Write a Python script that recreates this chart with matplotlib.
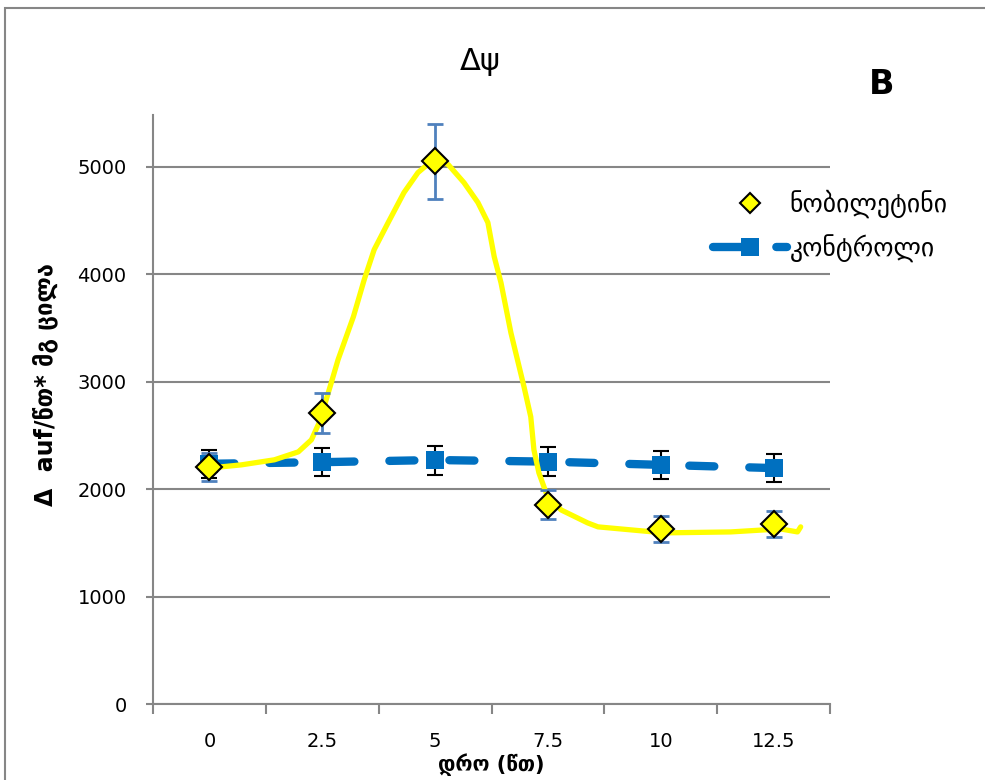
import matplotlib
matplotlib.use("Agg")
import matplotlib.pyplot as plt
from matplotlib.lines import Line2D
from matplotlib.patches import Rectangle

# time points (min)
times = [0, 2.5, 5, 7.5, 10, 12.5]
tick_labels = ["0", "2.5", "5", "7.5", "10", "12.5"]

# nobiletin and control values with their errors
nobiletin = [2205, 2705, 5050, 1855, 1630, 1675]
nobiletin_err = [130, 185, 350, 135, 120, 125]
control = [2235, 2250, 2270, 2255, 2225, 2195]
control_err = [130, 130, 135, 135, 130, 130]

# hand-drawn yellow trend curve
curve_t = [-0.18, 0.04, 0.71, 1.44, 1.97, 2.26, 2.43, 2.54, 2.70, 2.85,
           3.19, 3.43, 3.65, 3.96, 4.31, 4.62, 4.91, 5.07, 5.29, 5.64,
           5.95, 6.17, 6.31, 6.46, 6.68, 6.97, 7.12, 7.19, 7.30, 7.46,
           7.79, 8.38, 8.61, 10.07, 11.55, 12.65, 13.03, 13.10]
curve_v = [2207, 2197, 2225, 2272, 2346, 2458, 2616, 2765, 2989, 3203,
           3603, 3948, 4227, 4479, 4758, 4944, 5047, 5065, 5019, 4851,
           4665, 4479, 4162, 3920, 3454, 2952, 2672, 2365, 2151, 1965,
           1806, 1685, 1648, 1592, 1601, 1629, 1601, 1648]

plt.rcParams["font.family"] = ["DejaVu Sans"]

gray = "#868686"
blue = "#0070C0"
err_blue = "#4F81BD"
yellow = "#FFFF00"

fig = plt.figure(figsize=(9.85, 7.8), dpi=100)
ax = fig.add_axes([153 / 985, 1 - 704 / 780, 677 / 985, 589 / 780])

# control series: thick dashed blue line with squares
ax.errorbar(times, control, yerr=control_err, fmt="none", ecolor="black",
            elinewidth=1.5, capsize=6, capthick=1.5, zorder=3)
ctrl_line, = ax.plot(times, control, color=blue, linewidth=6,
                     dash_capstyle="round", marker="s", markersize=13,
                     markeredgewidth=0, zorder=4)
ctrl_line.set_dashes([3, 4.2])

# yellow curve
ax.plot(curve_t, curve_v, color=yellow, linewidth=3.8,
        solid_joinstyle="round", solid_capstyle="round", zorder=5)

# nobiletin points
ax.errorbar(times, nobiletin, yerr=nobiletin_err, fmt="none", ecolor=err_blue,
            elinewidth=2, capsize=6, capthick=2, zorder=5.5)
ax.plot(times, nobiletin, linestyle="none", marker="D", markersize=13,
        markerfacecolor=yellow, markeredgecolor="black", markeredgewidth=1.5,
        zorder=6)

# axes styling
ax.set_xlim(-1.25, 13.75)
ax.set_ylim(0, 5480)
ax.set_yticks([0, 1000, 2000, 3000, 4000, 5000])
ax.yaxis.grid(True, color=gray, linewidth=1.5)
ax.set_axisbelow(True)
ax.set_xticks([-1.25 + 2.5 * i for i in range(7)])
ax.set_xticklabels([])
ax.set_xticks(times, minor=True)
ax.set_xticklabels(tick_labels, minor=True)
ax.tick_params(axis="x", which="major", length=7, width=1.5, color=gray)
ax.tick_params(axis="x", which="minor", length=0, pad=20, labelsize=14)
ax.tick_params(axis="y", length=5, width=1.5, color=gray, pad=14, labelsize=14)
for side in ["top", "right"]:
    ax.spines[side].set_visible(False)
for side in ["left", "bottom"]:
    ax.spines[side].set_color(gray)
    ax.spines[side].set_linewidth(1.5)

fig.text(491 / 985, 1 - 765 / 780, "დრო (წთ)", fontsize=15,
         fontweight="bold", ha="center", va="center")
fig.text(45 / 985, 1 - 385 / 780, "Δ  auf/წთ* მგ ცილა", rotation=90,
         fontsize=17, fontweight="bold", ha="center", va="center")

fig.text(480 / 985, 1 - 62 / 780, "Δψ", fontsize=22, ha="center", va="center")
fig.text(882 / 985, 1 - 84 / 780, "B", fontsize=24, fontweight="bold",
         ha="center", va="center")

# legend
h1 = Line2D([], [], linestyle="none", marker="D", markersize=10,
            markerfacecolor=yellow, markeredgecolor="black", markeredgewidth=1.5)
h2 = Line2D([], [], color=blue, linewidth=6, dash_capstyle="round",
            marker="s", markersize=13, markeredgewidth=0)
h2.set_dashes([3.6, 4.0])
fig.legend([h1, h2], ["ნობილეტინი", "კონტროლი"], loc="center left",
           bbox_to_anchor=(713 / 985, 1 - 226 / 780), frameon=False,
           fontsize=18.5, handlelength=2.88, handletextpad=0.1,
           labelspacing=0.65, borderpad=0, borderaxespad=0, numpoints=1)

# outer border
fig.patches.append(Rectangle((5 / 985, -0.1), 2, 1.1 - 8 / 780,
                             transform=fig.transFigure, fill=False,
                             edgecolor=gray, linewidth=1.5))

fig.savefig("out.png", dpi=100)
